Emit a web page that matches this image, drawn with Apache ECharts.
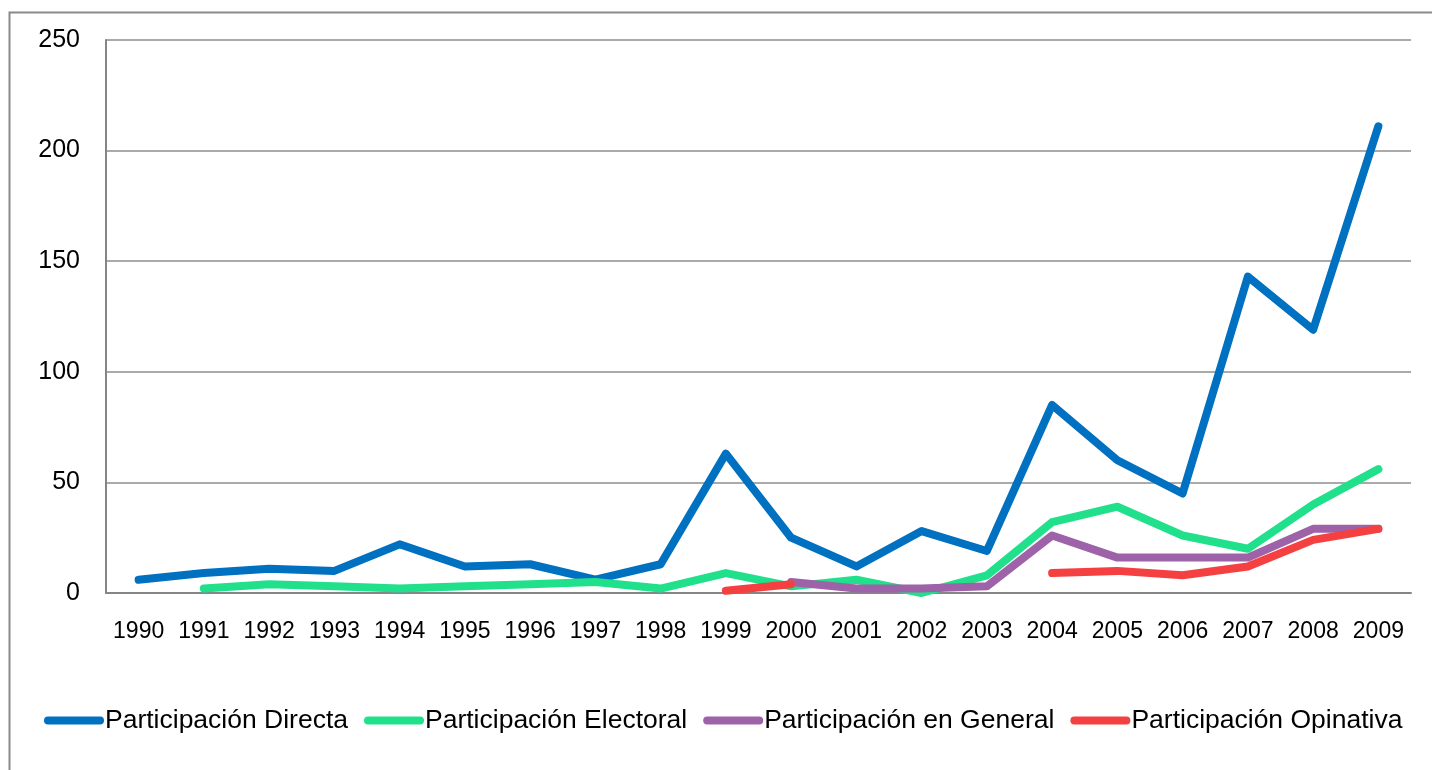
<!DOCTYPE html>
<html>
<head>
<meta charset="utf-8">
<script src="https://cdn.jsdelivr.net/npm/echarts@6/dist/echarts.min.js"></script>
<style>
html,body{margin:0;padding:0;background:#fff;}
#c{width:1432px;height:770px;}
</style>
</head>
<body>
<div id="c"></div>
<script>
const years = ['1990','1991','1992','1993','1994','1995','1996','1997','1998','1999','2000','2001','2002','2003','2004','2005','2006','2007','2008','2009'];
const yTicks = [0, 50, 100, 150, 200, 250];
const seriesNames = ['Participación Directa','Participación Electoral','Participación en General','Participación Opinativa'];
const directa   = [6, 9, 11, 10, 22, 12, 13, 6, 13, 63, 25, 12, 28, 19, 85, 60, 45, 143, 119, 211];
const electoral = [null, 2, 4, 3, 2, 3, 4, 5, 2, 9, 3, 6, 0, 8, 32, 39, 26, 20, 40, 56];
const general   = [null, null, null, null, null, null, null, null, null, null, 5, 2, 2, 3, 26, 16, 16, 16, 29, 29];
const opinativa = [null, null, null, null, null, null, null, null, null, 1, 4, null, null, null, 9, 10, 8, 12, 24, 29];
const colors = ['#0070C0', '#21E08B', '#9E62A8', '#F44040'];

const chart = echarts.init(document.getElementById('c'), null, {renderer: 'canvas'});
const font = '"Liberation Sans", Arial, sans-serif';
const dataSets = [directa, electoral, general, opinativa];
const capsule = 'path://M4,0 H56 A4,4 0 0 1 56,8 H4 A4,4 0 0 1 4,0 Z';

chart.setOption({
  animation: false,
  backgroundColor: '#fff',
  textStyle: {fontFamily: font},
  graphic: [{
    type: 'rect', left: 7, top: 10, z: -10,
    shape: {width: 1500, height: 800},
    style: {fill: 'none', stroke: '#8a8a8a', lineWidth: 2}
  }],
  grid: {left: 106, right: 21, top: 40, bottom: 177, containLabel: false},
  legend: {
    left: 44, top: 707, padding: 0,
    itemWidth: 60, itemHeight: 8, itemGap: 16,
    icon: capsule,
    textStyle: {fontSize: 26.5, color: '#000', fontFamily: font, padding: [0, 0, 0, -4]},
    data: seriesNames
  },
  xAxis: {
    type: 'category', data: years, boundaryGap: true,
    axisLine: {show: true, lineStyle: {color: '#868686', width: 2}},
    axisTick: {show: false},
    axisLabel: {color: '#000', fontSize: 23, fontFamily: font, margin: 27, interval: 0},
    splitLine: {show: false}
  },
  yAxis: {
    type: 'value', min: yTicks[0], max: yTicks[yTicks.length - 1], interval: 50,
    axisLine: {show: true, lineStyle: {color: '#868686', width: 2}},
    axisTick: {show: false},
    axisLabel: {color: '#000', fontSize: 25, fontFamily: font, margin: 26},
    splitLine: {show: true, lineStyle: {color: '#8e8e8e', width: 1.5}}
  },
  series: seriesNames.map((n, i) => ({
    name: n, type: 'line', data: dataSets[i],
    showSymbol: false, symbol: 'none', connectNulls: false,
    color: colors[i],
    lineStyle: {color: colors[i], width: 8, cap: 'round', join: 'round'},
    itemStyle: {color: colors[i]}
  }))
});
</script>
</body>
</html>
